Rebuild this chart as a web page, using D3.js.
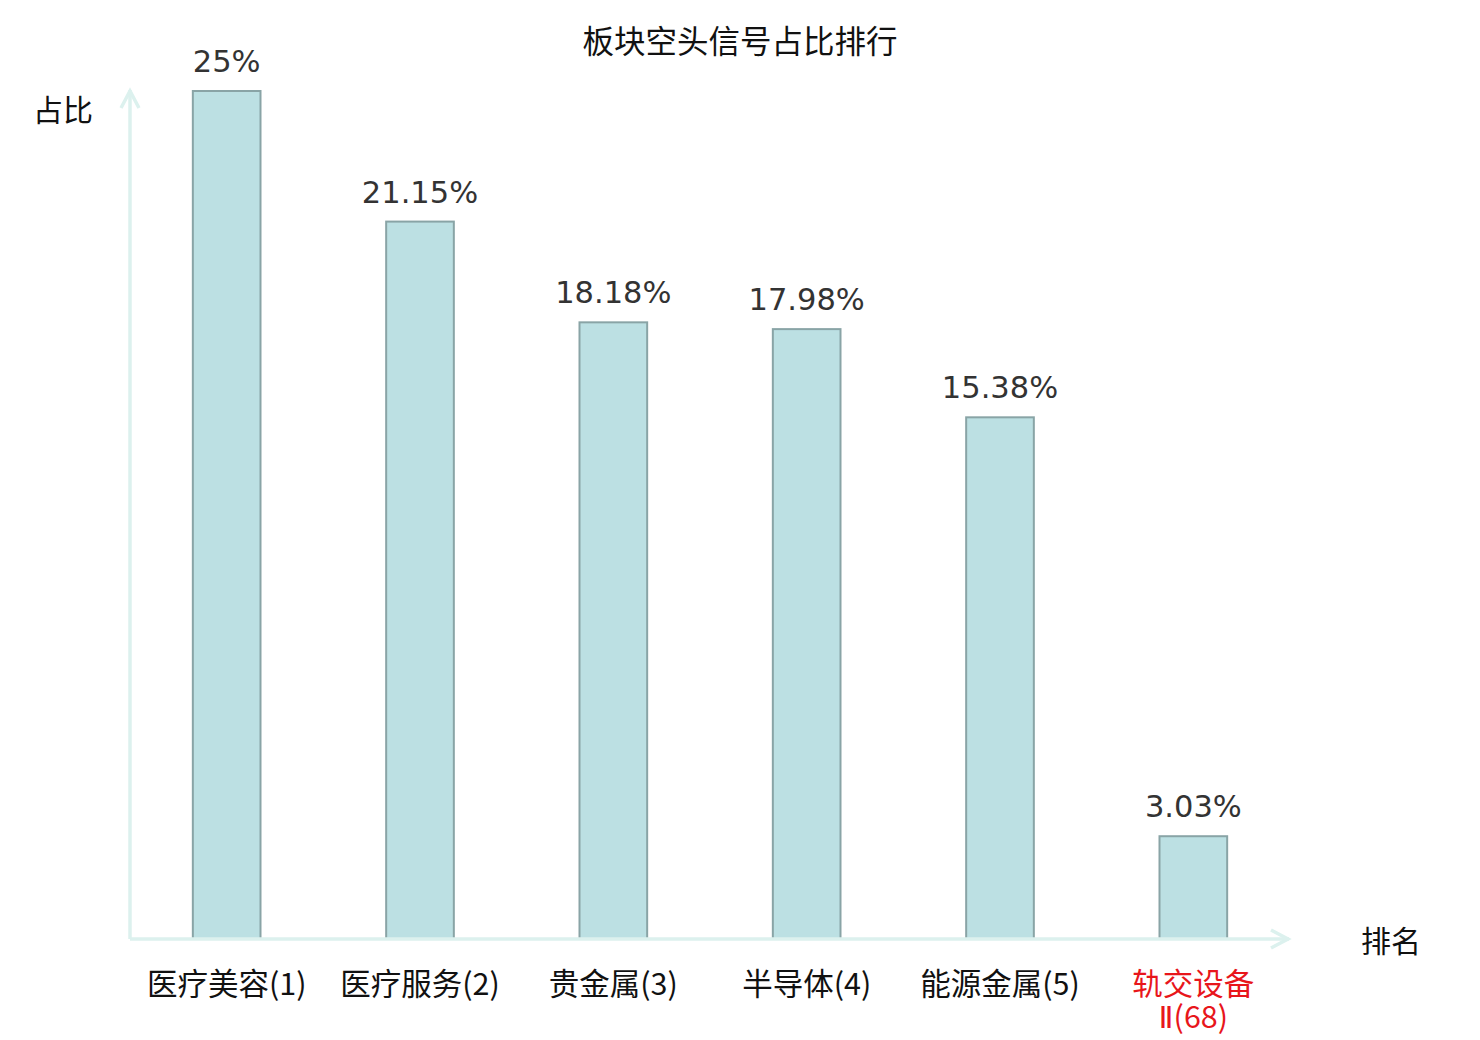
<!DOCTYPE html>
<html>
<head>
<meta charset="utf-8">
<script src="https://cdn.jsdelivr.net/npm/d3@7"></script>
<style>
    body { margin: 0; background: #fff; }
    svg { display: block; }
</style>
</head>
<body>
<div id="chart"></div>
<script>
// chart data
const title = "板块空头信号占比排行";
const categories = ["医疗美容(1)", "医疗服务(2)", "贵金属(3)", "半导体(4)", "能源金属(5)", "轨交设备Ⅱ(68)"];
const values = [25, 21.15, 18.18, 17.98, 15.38, 3.03];
const highlighted = [false, false, false, false, false, true];
const yName = "占比";
const xName = "排名";

const width = 1480, height = 1040;
const margin = {left: 130, right: 190, top: 91, bottom: 101};
const cjk = "'Noto Sans CJK SC', 'Noto Sans', sans-serif";
const axisColor = "#dcf1ee";

const svg = d3.select("#chart")
    .append("svg")
    .attr("width", width)
    .attr("height", height);

const x = d3.scaleBand()
    .domain(categories)
    .range([margin.left, width - margin.right])
    .paddingInner(0.65)
    .paddingOuter(0.325);

const y = d3.scaleLinear()
    .domain([0, 25])
    .range([height - margin.bottom, margin.top]);

// title
svg.append("text")
    .attr("x", width / 2)
    .attr("y", 53)
    .attr("text-anchor", "middle")
    .style("font-family", cjk)
    .style("font-size", "31.5px")
    .style("fill", "#111")
    .text(title);

// bars
svg.selectAll("rect.bar")
    .data(values)
    .enter()
    .append("rect")
    .attr("class", "bar")
    .attr("x", (d, i) => x(categories[i]))
    .attr("y", d => y(d))
    .attr("width", x.bandwidth())
    .attr("height", d => y(0) - y(d))
    .style("fill", "#bce0e3")
    .style("stroke", "#89a4a6")
    .style("stroke-width", 2);

// value labels
svg.selectAll("text.val")
    .data(values)
    .enter()
    .append("text")
    .attr("class", "val")
    .attr("x", (d, i) => x(categories[i]) + x.bandwidth() / 2)
    .attr("y", d => y(d) - 19)
    .attr("text-anchor", "middle")
    .style("font-family", "'DejaVu Sans', sans-serif")
    .style("font-size", "30.5px")
    .style("fill", "#333")
    .text(d => d + "%");

// axes with arrows
const x0 = margin.left, y0 = y(0);
const g = svg.append("g")
    .style("stroke", axisColor)
    .style("stroke-width", 3.5)
    .style("fill", "none");
g.append("line").attr("x1", x0).attr("y1", y0).attr("x2", x0).attr("y2", 90);
g.append("polyline").attr("points", `${x0 - 9},${108} ${x0},${91} ${x0 + 9},${108}`);
g.append("line").attr("x1", x0).attr("y1", y0).attr("x2", 1289).attr("y2", y0);
g.append("polyline").attr("points", `${1271},${y0 - 9} ${1288},${y0} ${1271},${y0 + 9}`);

// axis names
svg.append("text")
    .attr("x", 63)
    .attr("y", 121)
    .attr("text-anchor", "middle")
    .style("font-family", cjk)
    .style("font-size", "30px")
    .style("fill", "#111")
    .text(yName);
svg.append("text")
    .attr("x", 1391)
    .attr("y", 952)
    .attr("text-anchor", "middle")
    .style("font-family", cjk)
    .style("font-size", "30px")
    .style("fill", "#111")
    .text(xName);

// category labels, long ones wrap after 4 chars
categories.forEach((c, i) => {
    const lines = c.length > 8 ? [c.slice(0, 4), c.slice(4)] : [c];
    lines.forEach((l, j) => {
        const t = svg.append("text")
            .attr("x", x(c) + x.bandwidth() / 2)
            .attr("y", 995 + j * 33)
            .attr("text-anchor", "middle")
            .style("font-family", cjk)
            .style("font-size", "30.5px")
            .style("fill", highlighted[i] ? "#e8161b" : "#111");
        // roman numeral from DejaVu so it stays narrow
        l.split(/(Ⅱ)/).filter(s => s).forEach(s => {
            t.append("tspan")
                .style("font-family", s === "Ⅱ" ? "'DejaVu Sans', sans-serif" : cjk)
                .text(s);
        });
    });
});
</script>
</body>
</html>
